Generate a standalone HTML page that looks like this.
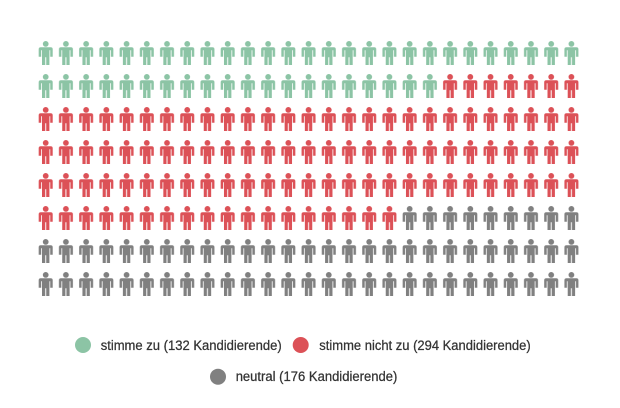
<!DOCTYPE html>
<html>
<head>
<meta charset="utf-8">
<style>
html,body{margin:0;padding:0;background:#fff;}
svg{display:block;}
text{font-family:"Liberation Sans",Arial,sans-serif;font-size:13.5px;fill:#333;stroke:#333;stroke-width:0.25px;}
</style>
</head>
<body>
<svg width="620" height="408" viewBox="0 0 620 408" xmlns="http://www.w3.org/2000/svg">
<defs>
<g id="man">
<circle cx="10.11" cy="2.9" r="2.9"/>
<path d="M3.11,8.3 Q3.11,6.3 5.11,6.3 H15.11 Q17.11,6.3 17.11,8.3 V15.8 H14.61 V9.3 H13.81 V24 H10.61 V16.2 H9.61 V24 H6.41 V9.3 H5.61 V15.8 H3.11 Z"/>
</g>
<pattern id="pg" patternUnits="userSpaceOnUse" x="35.59" y="41" width="20.22" height="33">
<use href="#man" fill="#8cc4a5"/>
</pattern>
<pattern id="pr" patternUnits="userSpaceOnUse" x="35.59" y="41" width="20.22" height="33">
<use href="#man" fill="#dc5157"/>
</pattern>
<pattern id="pk" patternUnits="userSpaceOnUse" x="35.59" y="41" width="20.22" height="33">
<use href="#man" fill="#808080"/>
</pattern>
</defs>

<!-- green -->
<rect x="35.59" y="41" width="545.94" height="33" fill="url(#pg)"/>
<rect x="35.59" y="74" width="404.4" height="33" fill="url(#pg)"/>
<!-- red -->
<rect x="439.99" y="74" width="141.54" height="33" fill="url(#pr)"/>
<rect x="35.59" y="107" width="545.94" height="99" fill="url(#pr)"/>
<rect x="35.59" y="206" width="363.96" height="33" fill="url(#pr)"/>
<!-- gray -->
<rect x="399.55" y="206" width="181.98" height="33" fill="url(#pk)"/>
<rect x="35.59" y="239" width="545.94" height="66" fill="url(#pk)"/>

<!-- legend -->
<circle cx="83" cy="345" r="8" fill="#8cc4a5"/>
<text x="100.7" y="350" textLength="181" lengthAdjust="spacingAndGlyphs">stimme zu (132 Kandidierende)</text>
<circle cx="300.7" cy="345" r="8" fill="#dc5157"/>
<text x="319.3" y="350" textLength="211.4" lengthAdjust="spacingAndGlyphs">stimme nicht zu (294 Kandidierende)</text>
<circle cx="218" cy="376.7" r="8" fill="#808080"/>
<text x="235.7" y="381" textLength="161.6" lengthAdjust="spacingAndGlyphs">neutral (176 Kandidierende)</text>
</svg>
</body>
</html>
